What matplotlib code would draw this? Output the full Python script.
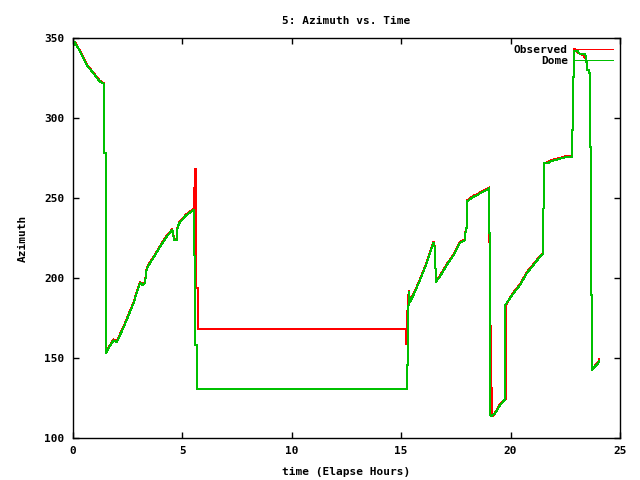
import matplotlib
matplotlib.use('Agg')
import matplotlib.pyplot as plt

# Dome track (hours, azimuth)
dome_t = [0.01, 0.09, 0.32, 0.63, 0.93, 1.23, 1.39, 1.43, 1.43, 1.49, 1.49, 1.52,
          1.62, 1.85, 2.0, 2.3, 2.76, 3.06, 3.19, 3.29, 3.37, 3.67, 3.98, 4.28,
          4.54, 4.62, 4.74, 4.78, 4.89, 5.19, 5.5, 5.55, 5.55, 5.59, 5.59, 5.65,
          5.65, 15.28, 15.28, 15.32, 15.32, 15.35, 15.4, 15.55, 15.86, 16.16,
          16.47, 16.51, 16.54, 16.59, 16.77, 17.08, 17.38, 17.69, 17.92, 17.95,
          17.99, 17.99, 18.3, 18.52, 18.6, 18.98, 19.01, 19.03, 19.07, 19.07,
          19.15, 19.29, 19.52, 19.72, 19.75, 19.75, 19.9, 20.13, 20.43, 20.74,
          21.04, 21.34, 21.5, 21.5, 21.54, 21.54, 21.72, 21.8, 22.03, 22.33,
          22.56, 22.79, 22.79, 22.84, 22.84, 22.9, 22.9, 23.05, 23.1, 23.17,
          23.4, 23.45, 23.45, 23.5, 23.5, 23.6, 23.6, 23.63, 23.63, 23.67,
          23.67, 23.73, 23.73, 23.85, 24.0, 24.05]
dome_az = [345, 347.3, 341.5, 333, 328, 322.7, 321.7, 321, 278, 278, 195, 153,
           156, 161, 160, 168.7, 184, 197, 195.6, 197, 206, 212.5, 219.6, 225.8,
           230, 223.7, 223.7, 232, 235, 239.4, 242.5, 242.5, 214, 214, 158, 158,
           130.4, 130.4, 145.6, 145.6, 175.8, 191.5, 185, 189, 198.7, 209,
           221.7, 222, 215.6, 197.7, 200.8, 208, 214, 222, 223.7, 231,
           231, 247.7, 250.8, 252, 253, 255.6, 256, 228, 228, 114.4,
           113.7, 115.4, 120.6, 123.7, 123.7, 183, 186, 190.4, 195.6, 203,
           208, 213.3, 215.4, 243.5, 243.5, 271.7, 271.7, 272.7, 273.7, 274.8,
           275.8, 275.8, 292.5, 292.5, 325.8, 325.8, 342, 342, 341, 339.8,
           339.8, 338.3, 335, 335, 330, 330, 328, 328, 282, 282,
           189.4, 189.4, 142.5, 144.6, 146.7, 148.3]

# Observed track (hours, azimuth)
obs_t = [0.01, 0.09, 0.32, 0.63, 0.93, 1.23, 1.39, 1.43, 1.43, 1.49, 1.49, 1.52,
         1.62, 1.85, 2.0, 2.3, 2.76, 3.06, 3.19, 3.29, 3.37, 3.67, 3.98, 4.28,
         4.54, 4.62, 4.74, 4.78, 4.89, 5.19, 5.5, 5.53, 5.53, 5.56, 5.56, 5.62,
         5.62, 5.72, 5.72, 15.2, 15.2, 15.27, 15.27, 15.3, 15.35, 15.4, 15.55,
         15.86, 16.16, 16.47, 16.51, 16.54, 16.59, 16.77, 17.08, 17.38, 17.69,
         17.92, 17.95, 17.99, 17.99, 18.3, 18.52, 18.6, 18.98, 19.02, 19.04,
         19.08, 19.08, 19.1, 19.12, 19.12, 19.15, 19.18, 19.3, 19.52, 19.72,
         19.78, 19.78, 19.8, 19.92, 20.13, 20.43, 20.74, 21.04, 21.34, 21.5,
         21.5, 21.54, 21.54, 21.72, 21.8, 22.03, 22.33, 22.56, 22.79, 22.79,
         22.84, 22.84, 22.9, 22.9, 22.95, 23.05, 23.17, 23.3, 23.45, 23.45,
         23.5, 23.5, 23.6, 23.6, 23.63, 23.63, 23.67, 23.67, 23.73, 23.73,
         23.85, 24.0, 24.05]
obs_az = [345, 347.5, 342.0, 333.5, 328.4, 323.2, 322, 321, 278, 278, 196, 153,
          156.6, 161.6, 160.5, 169.4, 184.6, 197.5, 196.1, 197.4, 206.6, 213.0, 220.1, 226.4,
          230.5, 224.2, 224.2, 232.5, 235.6, 240.0, 243, 243, 256, 256, 268, 268,
          194, 194, 168, 168, 159, 159, 172, 185, 192, 185.5, 189.6,
          199.3, 209.6, 222.4, 222.8, 216, 198, 201.4, 208.6, 214.6, 222.6,
          224.2, 231.5, 231.5, 248.3, 251.4, 252.6, 253.6, 256.2, 256.6, 213,
          213, 172, 150, 150, 137, 115, 113.7, 116, 121.2, 124.2,
          124.2, 137, 183, 186.6, 191.0, 196.2, 203.6, 208.6, 213.9, 215.8,
          243.5, 243.5, 272, 272.4, 273.3, 274.3, 275.3, 276.3, 276.3, 292.5,
          292.5, 325.8, 325.8, 343, 343, 341, 340, 339.5, 337, 335,
          335, 330, 330, 328, 328, 282, 282, 189.4, 189.4, 142.5,
          145.2, 147.3, 149.2]

x_ticks = [0, 5, 10, 15, 20, 25]
y_ticks = [100, 150, 200, 250, 300, 350]

plt.rcParams['font.family'] = ['DejaVu Sans Mono']
plt.rcParams['font.size'] = 8
plt.rcParams['font.weight'] = 'bold'

fig = plt.figure(figsize=(6.4, 4.8), dpi=100)
ax = fig.add_axes([73 / 640, 42 / 480, 547 / 640, 400 / 480])

ax.plot(obs_t, obs_az, color='#ff0000', linewidth=0.72, antialiased=False, label='Observed')
ax.plot(dome_t, dome_az, color='#00c000', linewidth=0.72, antialiased=False, label='Dome')

ax.set_xlim(0, 25)
ax.set_ylim(100, 350)
ax.set_xticks(x_ticks)
ax.set_yticks(y_ticks)
ax.tick_params(direction='in', length=4, width=1, top=True, right=True, pad=6)
for s in ax.spines.values():
    s.set_linewidth(1)

ax.set_title('5: Azimuth vs. Time', fontsize=8, fontweight='bold', pad=10)
ax.set_xlabel('time (Elapse Hours)', fontsize=8, fontweight='bold', labelpad=8)
ax.set_ylabel('Azimuth', fontsize=8, fontweight='bold', labelpad=12)

leg = ax.legend(loc='upper right', frameon=False, markerfirst=False,
                handlelength=3.5, handletextpad=0.6, borderaxespad=0.2,
                labelspacing=0.1, fontsize=8)
for t in leg.get_texts():
    t.set_fontweight('bold')

fig.savefig('out.png', dpi=100)
